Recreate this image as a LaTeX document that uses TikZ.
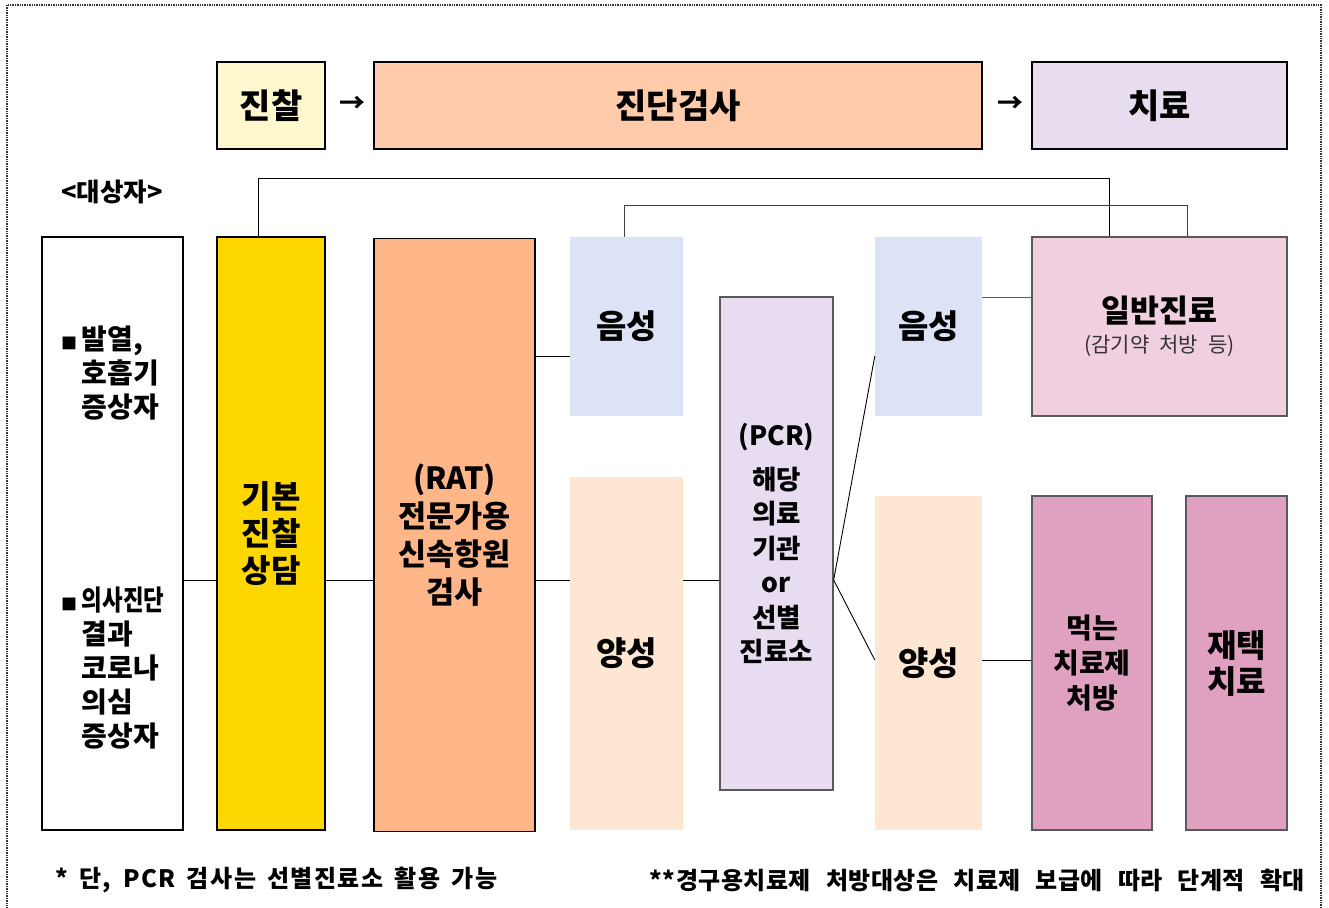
\documentclass[tikz,border=0pt]{standalone}
\usepackage{fontspec}
\setmainfont{Noto Sans CJK KR}
\definecolor{cJinchal}{HTML}{FFF8CF}
\definecolor{cJindan}{HTML}{FFCBAA}
\definecolor{cChiryo}{HTML}{E8DDEF}
\definecolor{cGibon}{HTML}{FFD700}
\definecolor{cRat}{HTML}{FFB688}
\definecolor{cNeg}{HTML}{DDE3F6}
\definecolor{cPos}{HTML}{FDE7D2}
\definecolor{cPcr}{HTML}{E8DDF0}
\definecolor{cIlban}{HTML}{EFCFE0}
\definecolor{cMeok}{HTML}{E0A1C1}
\newcommand{\bul}{{\fontsize{16}{16}\selectfont■}\,}
\tikzset{
  box/.style={rectangle, inner sep=0pt, align=center, font=\bfseries\fontsize{32}{38}\selectfont},
  hdr/.style={box, draw=black, line width=1.6pt, minimum height=87pt, font=\bfseries\fontsize{34}{38}\selectfont},
  col/.style={box, draw=black, line width=1.6pt, minimum height=593pt},
  soft/.style={box, draw=none, font=\bfseries\fontsize{33}{38}\selectfont},
  grayb/.style={box, draw=black!65, line width=1.3pt},
  conn/.style={line width=0.9pt, draw=black},
  note/.style={inner sep=0pt, font=\bfseries\fontsize{24}{28}\selectfont},
}
\begin{document}
\begin{tikzpicture}[x=1pt,y=-1pt]
\useasboundingbox (0,0) rectangle (1329,907);
\fill[white] (0,0) rectangle (1329,907);
\draw[densely dotted, line width=1.4pt, black!80] (7,5) rectangle (1321,930);

% header
\node[hdr, fill=cJinchal, minimum width=108pt] (jinchal) at (271,105.5) {진찰};
\node[hdr, fill=cJindan, minimum width=608pt] (jindan) at (678,105.5) {진단검사};
\node[hdr, fill=cChiryo, minimum width=255pt] (chiryo) at (1159.5,105.5) {치료};
\node[font=\bfseries\fontsize{26}{30}\selectfont] (ar1) at (352,104) {→};
\node[font=\bfseries\fontsize{26}{30}\selectfont] (ar2) at (1010,104) {→};

\node[font=\bfseries\fontsize{25.5}{28}\selectfont] (target) at (112,192) {<대상자>};

% columns
\node[col, fill=white, minimum width=141pt, line width=1.3pt] (left) at (112.5,533.5) {};
\node[col, fill=cGibon, minimum width=108pt, font=\bfseries\fontsize{32}{37}\selectfont] (gibon) at (271,533.5) {기본\\진찰\\상담};
\node[col, fill=cRat, minimum width=161pt, font=\bfseries\fontsize{30.5}{38}\selectfont] (rat) at (454.5,535) {(RAT)\\전문가용\\신속항원\\검사};

\node[anchor=north west, align=left, inner sep=0pt, font=\bfseries\fontsize{28}{34}\selectfont] (t1) at (61,326)
  {\bul 발열,\\\hphantom{\bul}호흡기\\\hphantom{\bul}증상자};
\node[anchor=north west, align=left, inner sep=0pt, font=\bfseries\fontsize{28}{34}\selectfont] (t2) at (61,587)
  {\bul\scalebox{0.8}[1]{의사진단}\\\hphantom{\bul}결과\\\hphantom{\bul}코로나\\\hphantom{\bul}의심\\\hphantom{\bul}증상자};

\node[soft, fill=cNeg, minimum width=113pt, minimum height=179pt] (neg1) at (626.5,326.5) {음성};
\node[soft, fill=cPos, minimum width=113pt, minimum height=353pt] (pos1) at (626.5,653.5) {양성};

\node[grayb, fill=cPcr, minimum width=113pt, minimum height=493pt, font=\bfseries\fontsize{26.5}{34.5}\selectfont] (pcr) at (776.5,543.5)
  {(PCR)\\[9pt]해당\\의료\\기관\\or\\선별\\진료소};

\node[soft, fill=cNeg, minimum width=107pt, minimum height=179pt] (neg2) at (928.5,326.5) {음성};
\node[soft, fill=cPos, minimum width=107pt, minimum height=334pt] (pos2) at (928.5,663) {양성};

\node[grayb, fill=cIlban, minimum width=255pt, minimum height=179pt, font=\bfseries\fontsize{31.5}{36}\selectfont] (ilban) at (1159.5,326.5)
  {일반진료\\[-6pt]{\mdseries\fontsize{21}{24}\selectfont\color{black!80}(감기약\hspace{10pt}처방\hspace{10pt}등)}};
\node[grayb, fill=cMeok, minimum width=120pt, minimum height=334pt, font=\bfseries\fontsize{28}{35}\selectfont] (meok) at (1092,663) {먹는\\치료제\\처방};
\node[grayb, fill=cMeok, minimum width=101pt, minimum height=334pt, font=\bfseries\fontsize{32}{36}\selectfont] (jaetaek) at (1236.5,663) {재택\\치료};

% level coordinates
\coordinate (L) at (0,580);
\coordinate (N) at (0,356);
\coordinate (M) at (0,660);
\coordinate (T) at (0,297);
\coordinate (a1) at (258,178);
\coordinate (b1) at (1109,0);
\coordinate (a2) at (624,205);
\coordinate (b2) at (1187,0);

% connectors
\draw[conn] (left.east |- L) -- (gibon.west |- L);
\draw[conn] (gibon.east |- L) -- (rat.west |- L);
\draw[conn] (rat.east |- L) -- (pos1.west |- L);
\draw[conn] (rat.east |- N) -- (neg1.west |- N);
\draw[conn] (pos1.east |- L) -- (pcr.west |- L);
\draw[conn] (pcr.east |- L) -- (neg2.west |- N);
\draw[conn] (pcr.east |- L) -- (pos2.west |- M);
\draw[conn, draw=black!65] (neg2.east |- T) -- (ilban.west |- T);
\draw[conn] (pos2.east |- M) -- (meok.west |- M);
\draw[conn] (gibon.north -| a1) -- (a1) -| (ilban.north -| b1);
\draw[conn, draw=black!75] (neg1.north -| a2) -- (a2) -| (ilban.north -| b2);

% notes
\node[note, anchor=west] (note1) at (55,880) {\addfontfeature{LetterSpace=6}\makebox[442pt][s]{* 단, PCR 검사는 선별진료소 활용 가능}};
\node[note, anchor=east] (note2) at (1305,880) {\addfontfeature{LetterSpace=2}\makebox[655pt][s]{**경구용치료제 처방대상은 치료제 보급에 따라 단계적 확대}};
\end{tikzpicture}
\end{document}
